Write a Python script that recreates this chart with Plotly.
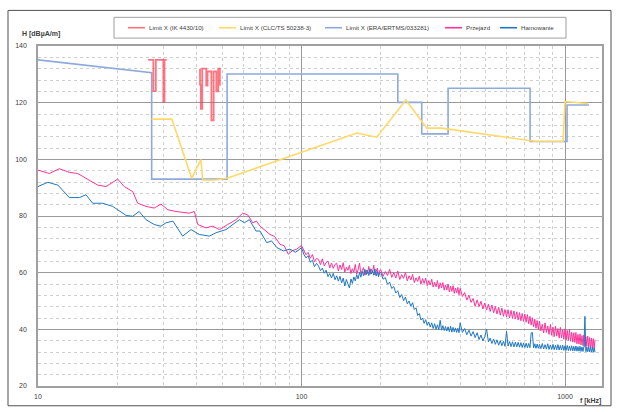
import plotly.graph_objects as go

# ---------------- data ----------------
ik_f = [26.2, 27.4, 27.4, 28.0, 28.0, 29.9, 29.9, 30.2, 30.2, 30.8, None,
        41.2, 41.2, 41.5, 41.5, 42.0, 42.0, 43.5, 43.5, 44.0, 44.0, 45.5, 45.5,
        46.4, 46.4, 47.5, 47.5, 48.3, 48.3, 49.0, 49.0]
ik_v = [135.1, 135.1, 124.1, 124.1, 135.1, 135.1, 120.2, 120.2, 135.1, 135.1, None,
        132.0, 126.4, 126.4, 117.8, 117.8, 132.0, 132.0, 126.0, 126.0, 131.0, 131.0, 113.8,
        113.8, 131.0, 131.0, 124.0, 124.0, 132.0, 132.0, 126.0]

clc_f = [27.0, 32.2, 38.3, 41.5, 42.2, 47.0, 52.2, 162.0, 193.0, 249.0, 299.0, 340.0, 781.0, 983.0, 1000.0, 1222.0]
clc_v = [114.2, 114.2, 93.3, 99.9, 92.7, 92.7, 93.3, 109.3, 107.8, 120.9, 111.0, 111.0, 106.3, 106.3, 120.4, 119.7]

era_f = [10, 27.0, 27.0, 52.2, 52.2, 232, 232, 286, 286, 360, 360, 737, 737, 1018, 1018, 1233]
era_v = [135.1, 130.6, 93.0, 93.0, 130.1, 130.1, 120.1, 120.1, 109.0, 109.0, 125.1, 125.1, 106.3, 106.3, 119.2, 119.2]

# measurement frequencies above 100 kHz
hf = [100, 102, 104, 106, 108, 110, 112, 114, 116, 118, 120, 122, 124, 126, 128, 130, 132, 134, 136, 138,
      140, 142, 144, 146, 148, 150, 152, 154, 156, 158, 160, 162, 164, 166, 168, 170, 172, 174, 176, 178,
      180, 182, 184, 186, 188, 190, 192, 194, 196, 198,
      200, 204, 208, 212, 216, 220, 224, 228, 232, 236, 240, 244, 248, 252, 256, 260, 264, 268, 272, 276,
      280, 284, 288, 292, 296, 300, 304, 308, 312, 316, 320, 324, 328, 332, 336, 340, 344, 348, 352, 356,
      360, 364, 368, 372, 376, 380, 384, 388, 392, 396,
      400, 408, 416, 424, 432, 440, 448, 456, 464, 472, 480, 488, 496, 504, 512, 520, 528, 536, 544, 552,
      560, 568, 576, 584, 592, 600, 608, 616, 624, 632, 640, 648, 656, 664, 672, 680, 688, 696, 704, 712,
      720, 728, 736, 744, 752, 760, 768, 776, 784, 792,
      800, 810, 820, 830, 840, 850, 860, 870, 880, 890, 900, 910, 920, 930, 940, 950, 960, 970, 980, 990,
      1000, 1010, 1020, 1030, 1040, 1050, 1060, 1070, 1080, 1090, 1100, 1110, 1120, 1130, 1140, 1150, 1160,
      1170, 1180, 1190, 1200, 1210, 1220, 1230, 1240, 1250, 1260, 1270, 1280, 1290, 1300]

pink_f_low = [10, 11.04, 12.05, 13.15, 14.15, 15.21, 16.85, 18.12, 20.07, 21.26, 22.88, 23.9, 25.7, 27.6, 29.3, 31.1, 33.4, 37.5,
              39.2, 40.4, 43.4, 46.0, 48.8, 52.5, 56.4, 59.8, 62.5, 65.3, 67.5, 69.6, 72.5, 75.9, 79.0, 82.9, 86.0, 89.1, 92.5, 95.9]
pink_v_low = [96.2, 95.0, 96.7, 95.4, 95.0, 93.3, 90.9, 90.4, 93.0, 90.4, 88.6, 84.5, 83.4, 82.8, 84.2, 82.2, 81.6, 81.0,
              81.6, 77.0, 75.8, 76.4, 75.2, 77.0, 78.7, 81.0, 80.4, 77.6, 78.2, 76.4, 75.0, 73.5, 72.8, 70.0, 69.5, 66.5, 67.8, 68.3]
pink_v_high = [69.6, 67.8, 66.3, 67.2, 65.1, 66.4, 63.9, 65.0, 64.7, 62.8, 64.9, 62.4, 63.6, 64.1, 61.7, 63.4, 61.5, 62.9, 63.3, 60.6,
               62.7, 61.1, 63.5, 60.2, 61.9, 60.8, 62.6, 59.7, 61.4, 60.2, 62.9, 59.5, 61.0, 63.4, 59.6, 60.7, 61.8, 59.1, 60.9, 59.7,
               62.2, 59.4, 61.3, 60.0, 62.6, 59.2, 60.5, 61.6, 58.9, 60.8,
               61.0, 58.7, 60.4, 59.0, 61.2, 58.3, 60.0, 58.1, 60.6, 57.6, 59.3, 58.0, 60.1, 57.1, 58.9, 57.4, 59.4, 56.5, 58.2, 56.9,
               58.8, 55.9, 57.9, 56.2, 58.1, 55.4, 57.2, 55.6, 57.7, 54.9, 56.6, 55.0, 57.2, 54.3, 56.4, 54.6, 56.5, 53.8, 55.7, 53.9,
               56.0, 53.2, 55.2, 53.4, 55.4, 52.7, 54.6, 52.9, 54.8, 52.2,
               54.5, 51.6, 53.0, 50.3, 52.1, 49.5, 50.9, 48.1, 50.4, 48.0, 49.9, 47.2, 49.3, 46.8, 48.9, 46.3, 48.6, 45.8, 48.1, 45.4,
               47.8, 45.0, 47.5, 44.6, 47.0, 44.4, 46.9, 44.0, 46.7, 43.9, 46.5, 43.6, 46.2, 43.3, 45.9, 43.0, 45.6, 42.8, 45.4, 42.5,
               45.2, 42.0, 44.6, 41.5, 44.1, 40.9, 43.6, 40.4, 43.1, 40.0,
               42.9, 39.5, 41.8, 38.7, 42.3, 38.9, 41.2, 38.2, 41.7, 37.9, 40.8, 37.4, 41.1, 37.6, 40.3, 36.9, 40.7, 37.0, 39.8, 36.5,
               40.2, 36.3, 39.6, 36.1, 39.9, 35.8, 39.0, 35.5, 38.8, 35.4, 38.9, 34.9, 38.2, 34.8, 38.4, 34.5, 37.8,
               34.3, 38.0, 33.9, 37.4, 34.0, 37.6, 33.6, 37.1, 33.5, 36.9, 33.4, 36.7, 33.2, 36.3]

blue_f_low = [10, 10.9, 11.9, 13.15, 14.35, 15.21, 16.13, 17.6, 19.2, 21.6, 22.88, 24.2, 25.7, 27.6, 29.3, 30.6, 32.5, 35.4,
              38.1, 40.9, 44.7, 47.4, 51.7, 56.4, 58.1, 60.7, 63.4, 67.2, 69.6, 73.8, 77.0, 80.5, 85.3, 90.4, 95.0]
blue_v_low = [90.4, 91.9, 90.9, 86.5, 86.5, 87.5, 84.5, 84.5, 83.4, 80.2, 79.9, 81.6, 78.7, 77.0, 76.4, 77.6, 78.2, 72.9,
              75.2, 73.5, 72.9, 74.1, 75.2, 77.6, 78.7, 77.6, 78.7, 74.7, 74.7, 70.6, 71.2, 68.9, 67.7, 68.3, 67.2]
blue_v_high = [68.8, 66.5, 65.2, 66.0, 63.7, 64.4, 62.1, 63.3, 62.4, 60.7, 61.6, 59.8, 60.9, 58.6, 59.7, 58.1, 59.8, 57.5, 58.9, 57.0,
               58.7, 56.4, 58.1, 55.3, 57.6, 55.9, 54.6, 57.8, 56.2, 58.5, 57.1, 59.3, 57.8, 60.1, 58.4, 60.5, 58.9, 61.2, 59.3, 60.8,
               59.0, 61.4, 59.5, 60.7, 59.1, 61.3, 58.8, 60.4, 58.6, 59.9,
               60.1, 57.7, 58.3, 55.9, 56.7, 54.4, 55.1, 52.8, 53.6, 51.2, 52.3, 50.1, 51.4, 49.0, 50.0, 48.2, 49.4, 47.0, 47.6, 44.9,
               45.6, 43.3, 44.0, 42.1, 43.4, 41.4, 42.6, 40.8, 42.3, 40.3, 42.0, 40.0, 41.6, 39.9, 43.2, 39.7, 41.3, 39.6, 41.0, 39.4,
               40.9, 39.2, 41.1, 39.0, 40.7, 39.1, 40.5, 38.9, 40.4, 38.8,
               42.3, 38.9, 40.3, 38.1, 39.7, 37.6, 39.2, 37.1, 38.8, 36.4, 38.0, 35.9, 37.4, 40.1, 35.6, 36.9, 35.0, 36.6, 34.7, 36.3,
               34.4, 36.0, 34.2, 35.8, 34.0, 39.3, 34.1, 35.7, 33.9, 35.6, 33.8, 35.5, 33.8, 35.4, 33.7, 35.3, 33.6, 35.2, 33.6, 35.1,
               33.5, 35.0, 33.5, 38.7, 38.9, 33.4, 34.9, 33.3, 34.8, 33.3,
               34.7, 33.2, 35.0, 33.1, 34.6, 33.0, 34.9, 32.9, 34.5, 32.9, 34.7, 32.8, 34.4, 32.8, 34.6, 32.7, 34.3, 32.7, 34.4, 32.6,
               34.2, 32.6, 34.3, 32.5, 34.1, 32.5, 34.2, 32.4, 34.0, 32.4, 34.1, 32.3, 33.9, 32.3, 34.0, 32.2, 33.8,
               32.2, 33.9, 44.6, 32.1, 33.8, 32.1, 33.7, 32.0, 33.7, 32.0, 33.6, 31.9, 33.5, 31.9]

names = ["Limit X (IK 4430/10)", "Limit X (CLC/TS 50238-3)", "Limit X (ERA/ERTMS/033281)", "Przejazd", "Hamowanie"]
colors = ["rgba(255,70,85,0.75)", "#FFD966", "#8EA9DB", "#FF3399", "#1F78C4"]

y_ticks = [20, 40, 60, 80, 100, 120, 140]
x_ticks = [10, 100, 1000]
x_minor = [20, 30, 40, 50, 60, 70, 80, 90, 200, 300, 400, 500, 600, 700, 800, 900]

# ---------------- figure ----------------
fig = go.Figure()
fig.add_trace(go.Scatter(x=pink_f_low + hf, y=pink_v_low + pink_v_high, mode="lines",
                         line=dict(color=colors[3], width=1), name=names[3], showlegend=False))
fig.add_trace(go.Scatter(x=blue_f_low + hf, y=blue_v_low + blue_v_high, mode="lines",
                         line=dict(color=colors[4], width=1), name=names[4], showlegend=False))
fig.add_trace(go.Scatter(x=era_f, y=era_v, mode="lines", line=dict(color=colors[2], width=1.6),
                         name=names[2], showlegend=False))
fig.add_trace(go.Scatter(x=clc_f, y=clc_v, mode="lines", line=dict(color=colors[1], width=1.6),
                         name=names[1], showlegend=False))
fig.add_trace(go.Scatter(x=ik_f, y=ik_v, mode="lines", line=dict(color=colors[0], width=1.8),
                         name=names[0], showlegend=False, connectgaps=False))

L, R, T, B = 38, 16, 46, 22
W, H = 618, 412
pw, ph = W - L - R, H - T - B


def xp(px):
    return (px - L) / pw


def yp(py):
    return (H - B - py) / ph


font_fam = "Liberation Sans, Arial, sans-serif"
shapes = [dict(type="rect", xref="paper", yref="paper", x0=xp(8), x1=xp(611), y0=yp(410), y1=yp(10),
               line=dict(color="#505050", width=1))]
annotations = []

# manual legend
shapes.append(dict(type="rect", xref="paper", yref="paper", x0=xp(114), x1=xp(566), y0=yp(38), y1=yp(17),
                   line=dict(color="#A0A0A0", width=1), fillcolor="white"))
leg_x = [128, 219, 325, 445, 500]
for i, nm in enumerate(names):
    x0 = leg_x[i]
    shapes.append(dict(type="line", xref="paper", yref="paper", x0=xp(x0), x1=xp(x0 + 17),
                       y0=yp(27.5), y1=yp(27.5), line=dict(color=colors[i], width=1.6)))
    annotations.append(dict(xref="paper", yref="paper", x=xp(x0 + 19), y=yp(27.5), text=nm,
                            showarrow=False, xanchor="left", yanchor="middle",
                            font=dict(size=6.2, color="#404040", family=font_fam)))

annotations.append(dict(xref="paper", yref="paper", x=xp(20), y=yp(34), text="<b>H [dBµA/m]</b>",
                        showarrow=False, xanchor="left", yanchor="middle",
                        font=dict(size=7, color="#404040", family=font_fam)))
annotations.append(dict(xref="paper", yref="paper", x=xp(578), y=yp(405), text="<b>f [kHz]</b>",
                        showarrow=False, xanchor="left", yanchor="middle",
                        font=dict(size=7, color="#404040", family=font_fam)))

fig.update_layout(
    width=W, height=H, margin=dict(l=L, r=R, t=T, b=B),
    paper_bgcolor="white", plot_bgcolor="white",
    shapes=shapes, annotations=annotations,
    font=dict(family=font_fam, size=7, color="#404040"),
)
fig.update_xaxes(type="log", range=[1, 3.1404], tickvals=x_ticks, ticktext=[str(v) for v in x_ticks],
                 showgrid=True, gridcolor="#9A9A9A", gridwidth=1,
                 minor=dict(tickvals=x_minor, showgrid=True, gridcolor="#CFCFCF", griddash="dot", gridwidth=1),
                 showline=True, mirror=True, linecolor="#A0A0A0", linewidth=1.5,
                 ticks="", zeroline=False, tickfont=dict(size=7), ticklabelstandoff=3)
fig.update_yaxes(range=[20, 140], tickvals=y_ticks, showgrid=True, gridcolor="#9A9A9A", gridwidth=1,
                 minor=dict(dtick=4, showgrid=True, gridcolor="#CFCFCF", griddash="dot", gridwidth=1),
                 showline=True, mirror=True, linecolor="#A0A0A0", linewidth=1.5,
                 ticks="", zeroline=False, tickfont=dict(size=7), ticklabelstandoff=8)

fig.write_html("out.html")
